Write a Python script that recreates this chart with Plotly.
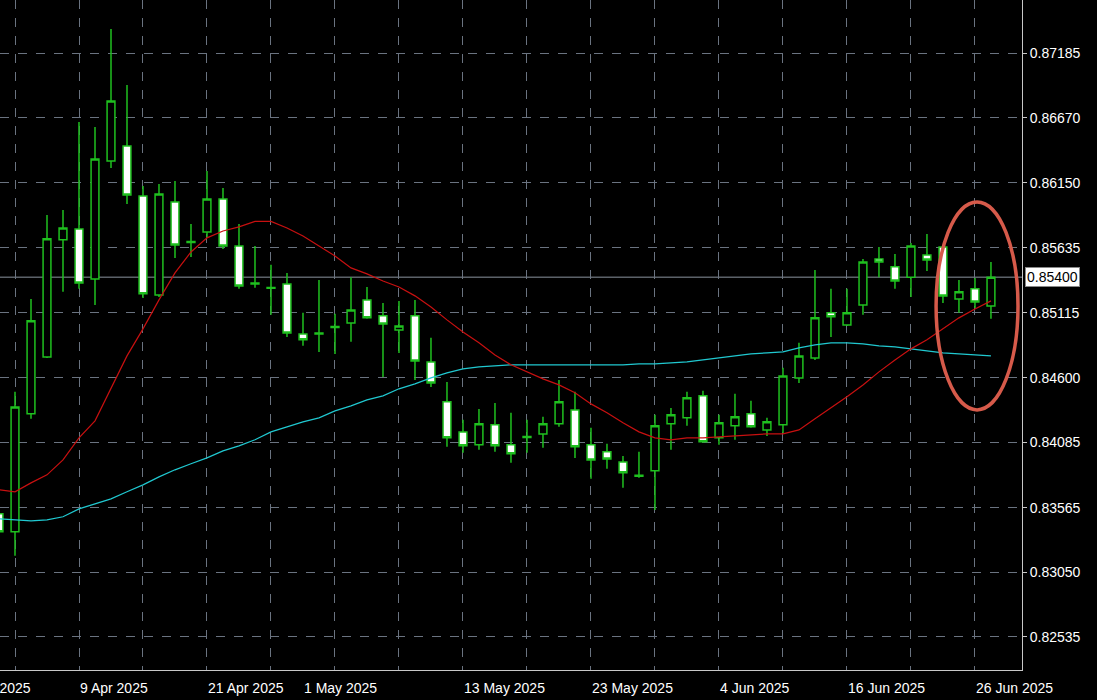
import plotly.graph_objects as go

idx = list(range(-1, 62))
opens = [0.83516,0.83372,0.84312,0.84765,0.85697,0.85784,0.85386,0.86325,0.86445,0.86047,0.85259,0.85999,0.85685,0.85760,0.86023,0.85649,0.85354,0.85318,0.85346,0.84948,0.84948,0.85000,0.85036,0.85219,0.85092,0.84980,0.85092,0.84725,0.84407,0.84168,0.84065,0.84224,0.84065,0.84124,0.84152,0.84232,0.84343,0.84065,0.84009,0.83929,0.83814,0.83858,0.84232,0.84280,0.84455,0.84121,0.84216,0.84312,0.84184,0.84224,0.84598,0.84757,0.85116,0.85020,0.85179,0.85545,0.85482,0.85400,0.85577,0.85641,0.85227,0.85307,0.85171]
highs = [0.83539,0.84487,0.85227,0.85896,0.85935,0.86636,0.86596,0.87376,0.86930,0.86126,0.86142,0.86166,0.85824,0.86246,0.86111,0.85824,0.85649,0.85498,0.85434,0.85116,0.85378,0.85108,0.85400,0.85322,0.85195,0.85211,0.85219,0.84917,0.84566,0.84264,0.84351,0.84399,0.84320,0.84264,0.84288,0.84582,0.84487,0.84200,0.84073,0.83977,0.84009,0.84304,0.84359,0.84487,0.84495,0.84304,0.84471,0.84415,0.84280,0.84678,0.84877,0.85458,0.85307,0.85307,0.85545,0.85641,0.85585,0.85673,0.85744,0.85657,0.85378,0.85394,0.85521]
lows = [0.83348,0.83181,0.84272,0.84757,0.85283,0.85307,0.85179,0.86270,0.85983,0.85235,0.85243,0.85553,0.85561,0.85713,0.85625,0.85307,0.85315,0.85100,0.84924,0.84853,0.84805,0.84789,0.84885,0.85068,0.84606,0.84797,0.84582,0.84526,0.84049,0.84001,0.84025,0.84009,0.83922,0.84001,0.84041,0.84208,0.83961,0.83794,0.83874,0.83723,0.83802,0.83547,0.84025,0.84216,0.84081,0.84065,0.84105,0.84200,0.84136,0.84160,0.84558,0.84741,0.84924,0.85012,0.85100,0.85400,0.85307,0.85243,0.85450,0.85195,0.85116,0.85155,0.85068]
closes = [0.83372,0.84367,0.85052,0.85705,0.85792,0.85354,0.86341,0.86803,0.86055,0.85267,0.86063,0.85657,0.85677,0.86023,0.85649,0.85330,0.85346,0.85311,0.84956,0.84901,0.84956,0.85008,0.85139,0.85076,0.85028,0.85012,0.84733,0.84558,0.84121,0.84057,0.84232,0.84057,0.83993,0.84132,0.84232,0.84407,0.84049,0.83945,0.83953,0.83842,0.83822,0.84216,0.84304,0.84439,0.84089,0.84240,0.84288,0.84208,0.84248,0.84614,0.84773,0.85076,0.85084,0.85116,0.85521,0.85521,0.85370,0.85649,0.85537,0.85251,0.85283,0.85203,0.85400]
ma_fast = [0.83707,0.83691,0.83762,0.83826,0.83945,0.84121,0.84256,0.84519,0.84773,0.84988,0.85219,0.85434,0.85601,0.85713,0.85768,0.85800,0.85844,0.85844,0.85792,0.85728,0.85649,0.85569,0.85474,0.85426,0.85370,0.85322,0.85251,0.85163,0.85060,0.84964,0.84877,0.84781,0.84702,0.84646,0.84590,0.84542,0.84479,0.84391,0.84320,0.84240,0.84168,0.84121,0.84105,0.84121,0.84121,0.84128,0.84136,0.84144,0.84152,0.84152,0.84184,0.84272,0.84359,0.84447,0.84542,0.84646,0.84741,0.84829,0.84901,0.84988,0.85076,0.85147,0.85211]
ma_slow = [0.83476,0.83468,0.83460,0.83468,0.83492,0.83555,0.83595,0.83635,0.83691,0.83746,0.83810,0.83866,0.83914,0.83961,0.84017,0.84057,0.84105,0.84168,0.84208,0.84248,0.84280,0.84335,0.84375,0.84423,0.84455,0.84511,0.84550,0.84598,0.84638,0.84670,0.84686,0.84694,0.84702,0.84702,0.84702,0.84702,0.84702,0.84702,0.84702,0.84702,0.84710,0.84710,0.84718,0.84725,0.84741,0.84757,0.84773,0.84789,0.84797,0.84805,0.84837,0.84861,0.84877,0.84877,0.84869,0.84853,0.84845,0.84829,0.84813,0.84797,0.84789,0.84781,0.84773]
date_labels = ["28 Mar 2025","9 Apr 2025","21 Apr 2025","1 May 2025","13 May 2025","23 May 2025","4 Jun 2025","16 Jun 2025","26 Jun 2025"]
date_pos = [-4, 4, 12, 18, 28, 36, 44, 52, 60]
y_ticks = [0.87185,0.86670,0.86150,0.85635,0.85115,0.84600,0.84085,0.83565,0.83050,0.82535]
last_price = 0.85400

GREEN = "#1fc01f"
FONT = "Liberation Sans"
fig = go.Figure()
fig.add_trace(go.Scatter(x=idx, y=ma_slow, mode="lines", line=dict(color="#20c8d0", width=1.2), hoverinfo="skip"))
fig.add_trace(go.Scatter(x=idx, y=ma_fast, mode="lines", line=dict(color="#c81010", width=1.2), hoverinfo="skip"))
fig.add_trace(go.Candlestick(
    x=idx, open=opens, high=highs, low=lows, close=closes,
    increasing=dict(line=dict(color=GREEN, width=1.5), fillcolor="#000000"),
    decreasing=dict(line=dict(color=GREEN, width=1.5), fillcolor="#ffffff"),
    whiskerwidth=0,
))

fig.add_shape(type="line", xref="paper", x0=0, x1=1, y0=last_price, y1=last_price,
              line=dict(color="#8a949e", width=1), layer="below")
fig.add_shape(type="circle", xref="x", yref="y", x0=57.57, x1=62.69, y0=0.84343, y1=0.85999,
              line=dict(color="#d65a4a", width=3.5))

for t, p in zip(date_labels, date_pos):
    anchor = max(p, 0)
    fig.add_annotation(x=anchor - 0.06, y=-0.012, xref="x", yref="paper", text=t, showarrow=False,
                       xshift=(p - anchor) * 16, xanchor="left", yanchor="top",
                       font=dict(color="white", size=14, family=FONT))

fig.add_annotation(x=1, y=last_price, xref="paper", yref="y", text=f"{last_price:.5f}", showarrow=False,
                   xanchor="left", xshift=3, bgcolor="white", bordercolor="#888", borderwidth=1, borderpad=1,
                   font=dict(color="black", size=14, family=FONT))

grid = dict(showgrid=True, gridcolor="#6a7380", griddash="dash", gridwidth=1)
fig.update_layout(
    width=1097, height=700, paper_bgcolor="black", plot_bgcolor="black",
    margin=dict(l=0, r=75, t=0, b=30, autoexpand=False), showlegend=False,
    xaxis=dict(range=[-0.9375, 62.94], tickvals=list(range(0, 62, 4)), showticklabels=False,
               rangeslider=dict(visible=False), showline=True, linecolor="#c8c8c8", zeroline=False, **grid),
    yaxis=dict(range=[0.82272, 0.87607], side="right", tickvals=y_ticks, ticktext=[f"{v:.5f}" for v in y_ticks],
               tickfont=dict(color="white", size=14, family=FONT), ticks="outside", ticklen=4,
               tickcolor="#c8c8c8", showline=True, linecolor="#c8c8c8", zeroline=False, **grid),
)
fig.write_html("out.html", config={"displayModeBar": False},
               post_script="document.body.style.margin='0';document.body.style.background='black';")
